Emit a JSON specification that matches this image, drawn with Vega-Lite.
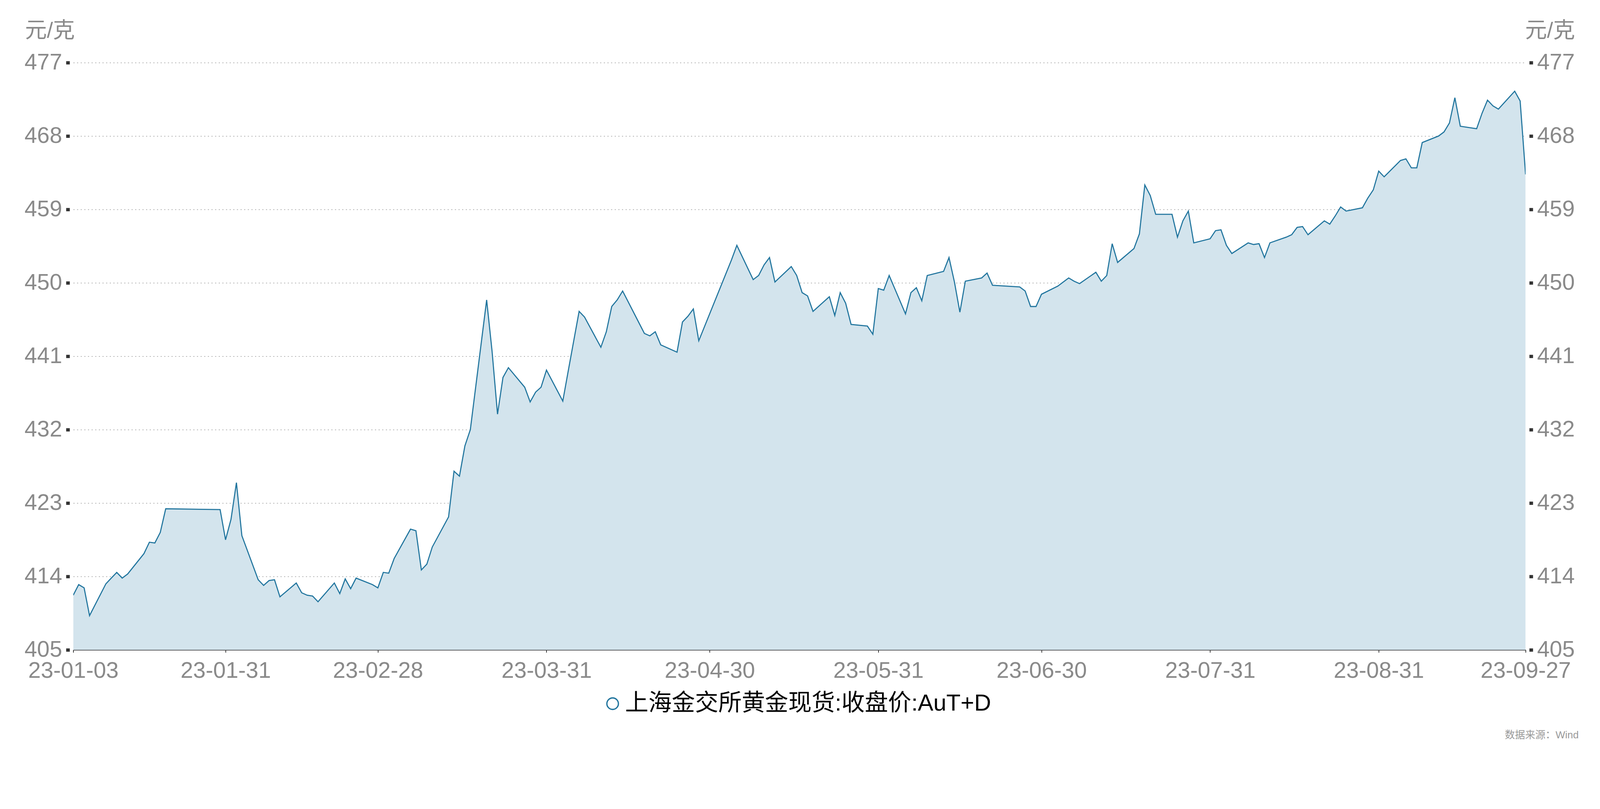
{
  "$schema": "https://vega.github.io/schema/vega-lite/v6.json",
  "description": "上海金交所黄金现货:收盘价:AuT+D, 2023-01-03 至 2023-09-27",
  "background": "white",
  "autosize": {"type": "none"},
  "padding": {"left": 187.5, "top": 160.4, "right": 189.5, "bottom": 268.6},
  "width": 3718,
  "height": 1504,
  "title": {
    "text": "数据来源：Wind",
    "orient": "bottom",
    "anchor": "end",
    "frame": "group",
    "dx": 136,
    "offset": 38,
    "fontSize": 26,
    "fontWeight": "normal",
    "color": "#999999",
    "font": "Liberation Sans, Noto Sans CJK SC"
  },
  "data": {
    "values": [
      {"date": "2023-01-03", "price": 411.7},
      {"date": "2023-01-04", "price": 413.0},
      {"date": "2023-01-05", "price": 412.6},
      {"date": "2023-01-06", "price": 409.2},
      {"date": "2023-01-09", "price": 413.1},
      {"date": "2023-01-10", "price": 413.8},
      {"date": "2023-01-11", "price": 414.5},
      {"date": "2023-01-12", "price": 413.8},
      {"date": "2023-01-13", "price": 414.3},
      {"date": "2023-01-16", "price": 416.8},
      {"date": "2023-01-17", "price": 418.2},
      {"date": "2023-01-18", "price": 418.1},
      {"date": "2023-01-19", "price": 419.4},
      {"date": "2023-01-20", "price": 422.3},
      {"date": "2023-01-30", "price": 422.2},
      {"date": "2023-01-31", "price": 418.5},
      {"date": "2023-02-01", "price": 421.0},
      {"date": "2023-02-02", "price": 425.5},
      {"date": "2023-02-03", "price": 419.0},
      {"date": "2023-02-06", "price": 413.6},
      {"date": "2023-02-07", "price": 412.9},
      {"date": "2023-02-08", "price": 413.5},
      {"date": "2023-02-09", "price": 413.6},
      {"date": "2023-02-10", "price": 411.5},
      {"date": "2023-02-13", "price": 413.2},
      {"date": "2023-02-14", "price": 412.0},
      {"date": "2023-02-15", "price": 411.7},
      {"date": "2023-02-16", "price": 411.6},
      {"date": "2023-02-17", "price": 410.9},
      {"date": "2023-02-20", "price": 413.2},
      {"date": "2023-02-21", "price": 411.9},
      {"date": "2023-02-22", "price": 413.7},
      {"date": "2023-02-23", "price": 412.5},
      {"date": "2023-02-24", "price": 413.8},
      {"date": "2023-02-27", "price": 413.0},
      {"date": "2023-02-28", "price": 412.6},
      {"date": "2023-03-01", "price": 414.5},
      {"date": "2023-03-02", "price": 414.4},
      {"date": "2023-03-03", "price": 416.2},
      {"date": "2023-03-06", "price": 419.8},
      {"date": "2023-03-07", "price": 419.6},
      {"date": "2023-03-08", "price": 414.8},
      {"date": "2023-03-09", "price": 415.5},
      {"date": "2023-03-10", "price": 417.6},
      {"date": "2023-03-13", "price": 421.3},
      {"date": "2023-03-14", "price": 426.9},
      {"date": "2023-03-15", "price": 426.3},
      {"date": "2023-03-16", "price": 430.0},
      {"date": "2023-03-17", "price": 432.0},
      {"date": "2023-03-20", "price": 447.9},
      {"date": "2023-03-21", "price": 441.6},
      {"date": "2023-03-22", "price": 433.9},
      {"date": "2023-03-23", "price": 438.4},
      {"date": "2023-03-24", "price": 439.6},
      {"date": "2023-03-27", "price": 437.2},
      {"date": "2023-03-28", "price": 435.4},
      {"date": "2023-03-29", "price": 436.6},
      {"date": "2023-03-30", "price": 437.2},
      {"date": "2023-03-31", "price": 439.3},
      {"date": "2023-04-03", "price": 435.5},
      {"date": "2023-04-04", "price": 439.2},
      {"date": "2023-04-06", "price": 446.5},
      {"date": "2023-04-07", "price": 445.8},
      {"date": "2023-04-10", "price": 442.1},
      {"date": "2023-04-11", "price": 444.0},
      {"date": "2023-04-12", "price": 447.1},
      {"date": "2023-04-13", "price": 447.9},
      {"date": "2023-04-14", "price": 449.0},
      {"date": "2023-04-17", "price": 445.1},
      {"date": "2023-04-18", "price": 443.8},
      {"date": "2023-04-19", "price": 443.5},
      {"date": "2023-04-20", "price": 444.0},
      {"date": "2023-04-21", "price": 442.4},
      {"date": "2023-04-24", "price": 441.5},
      {"date": "2023-04-25", "price": 445.2},
      {"date": "2023-04-26", "price": 445.9},
      {"date": "2023-04-27", "price": 446.8},
      {"date": "2023-04-28", "price": 442.9},
      {"date": "2023-05-04", "price": 452.8},
      {"date": "2023-05-05", "price": 454.6},
      {"date": "2023-05-08", "price": 450.4},
      {"date": "2023-05-09", "price": 450.9},
      {"date": "2023-05-10", "price": 452.2},
      {"date": "2023-05-11", "price": 453.1},
      {"date": "2023-05-12", "price": 450.1},
      {"date": "2023-05-15", "price": 452.0},
      {"date": "2023-05-16", "price": 450.9},
      {"date": "2023-05-17", "price": 448.8},
      {"date": "2023-05-18", "price": 448.4},
      {"date": "2023-05-19", "price": 446.5},
      {"date": "2023-05-22", "price": 448.3},
      {"date": "2023-05-23", "price": 446.0},
      {"date": "2023-05-24", "price": 448.8},
      {"date": "2023-05-25", "price": 447.5},
      {"date": "2023-05-26", "price": 444.9},
      {"date": "2023-05-29", "price": 444.7},
      {"date": "2023-05-30", "price": 443.7},
      {"date": "2023-05-31", "price": 449.3},
      {"date": "2023-06-01", "price": 449.1},
      {"date": "2023-06-02", "price": 450.9},
      {"date": "2023-06-05", "price": 446.2},
      {"date": "2023-06-06", "price": 448.8},
      {"date": "2023-06-07", "price": 449.4},
      {"date": "2023-06-08", "price": 447.8},
      {"date": "2023-06-09", "price": 450.9},
      {"date": "2023-06-12", "price": 451.4},
      {"date": "2023-06-13", "price": 453.1},
      {"date": "2023-06-14", "price": 450.1},
      {"date": "2023-06-15", "price": 446.4},
      {"date": "2023-06-16", "price": 450.2},
      {"date": "2023-06-19", "price": 450.6},
      {"date": "2023-06-20", "price": 451.2},
      {"date": "2023-06-21", "price": 449.7},
      {"date": "2023-06-26", "price": 449.5},
      {"date": "2023-06-27", "price": 449.0},
      {"date": "2023-06-28", "price": 447.1},
      {"date": "2023-06-29", "price": 447.1},
      {"date": "2023-06-30", "price": 448.6},
      {"date": "2023-07-03", "price": 449.6},
      {"date": "2023-07-04", "price": 450.1},
      {"date": "2023-07-05", "price": 450.6},
      {"date": "2023-07-06", "price": 450.2},
      {"date": "2023-07-07", "price": 449.9},
      {"date": "2023-07-10", "price": 451.3},
      {"date": "2023-07-11", "price": 450.2},
      {"date": "2023-07-12", "price": 450.9},
      {"date": "2023-07-13", "price": 454.8},
      {"date": "2023-07-14", "price": 452.5},
      {"date": "2023-07-17", "price": 454.2},
      {"date": "2023-07-18", "price": 456.0},
      {"date": "2023-07-19", "price": 462.0},
      {"date": "2023-07-20", "price": 460.7},
      {"date": "2023-07-21", "price": 458.4},
      {"date": "2023-07-24", "price": 458.4},
      {"date": "2023-07-25", "price": 455.6},
      {"date": "2023-07-26", "price": 457.6},
      {"date": "2023-07-27", "price": 458.8},
      {"date": "2023-07-28", "price": 454.9},
      {"date": "2023-07-31", "price": 455.4},
      {"date": "2023-08-01", "price": 456.4},
      {"date": "2023-08-02", "price": 456.5},
      {"date": "2023-08-03", "price": 454.6},
      {"date": "2023-08-04", "price": 453.6},
      {"date": "2023-08-07", "price": 454.9},
      {"date": "2023-08-08", "price": 454.7},
      {"date": "2023-08-09", "price": 454.8},
      {"date": "2023-08-10", "price": 453.1},
      {"date": "2023-08-11", "price": 454.9},
      {"date": "2023-08-14", "price": 455.6},
      {"date": "2023-08-15", "price": 455.9},
      {"date": "2023-08-16", "price": 456.8},
      {"date": "2023-08-17", "price": 456.9},
      {"date": "2023-08-18", "price": 455.9},
      {"date": "2023-08-21", "price": 457.6},
      {"date": "2023-08-22", "price": 457.2},
      {"date": "2023-08-23", "price": 458.2},
      {"date": "2023-08-24", "price": 459.3},
      {"date": "2023-08-25", "price": 458.8},
      {"date": "2023-08-28", "price": 459.2},
      {"date": "2023-08-29", "price": 460.4},
      {"date": "2023-08-30", "price": 461.4},
      {"date": "2023-08-31", "price": 463.7},
      {"date": "2023-09-01", "price": 463.0},
      {"date": "2023-09-04", "price": 465.0},
      {"date": "2023-09-05", "price": 465.2},
      {"date": "2023-09-06", "price": 464.1},
      {"date": "2023-09-07", "price": 464.1},
      {"date": "2023-09-08", "price": 467.2},
      {"date": "2023-09-11", "price": 468.0},
      {"date": "2023-09-12", "price": 468.5},
      {"date": "2023-09-13", "price": 469.6},
      {"date": "2023-09-14", "price": 472.7},
      {"date": "2023-09-15", "price": 469.2},
      {"date": "2023-09-18", "price": 468.9},
      {"date": "2023-09-19", "price": 470.8},
      {"date": "2023-09-20", "price": 472.4},
      {"date": "2023-09-21", "price": 471.7},
      {"date": "2023-09-22", "price": 471.3},
      {"date": "2023-09-25", "price": 473.5},
      {"date": "2023-09-26", "price": 472.3},
      {"date": "2023-09-27", "price": 463.3}
    ]
  },
  "encoding": {
    "x": {
      "field": "date",
      "type": "temporal",
      "title": null,
      "scale": {
        "type": "utc",
        "domain": [
          {"year": 2023, "month": 1, "date": 3, "utc": true},
          {"year": 2023, "month": 9, "date": 27, "utc": true}
        ]
      },
      "axis": {
        "values": [
          {"year": 2023, "month": 1, "date": 3, "utc": true},
          {"year": 2023, "month": 1, "date": 31, "utc": true},
          {"year": 2023, "month": 2, "date": 28, "utc": true},
          {"year": 2023, "month": 3, "date": 31, "utc": true},
          {"year": 2023, "month": 4, "date": 30, "utc": true},
          {"year": 2023, "month": 5, "date": 31, "utc": true},
          {"year": 2023, "month": 6, "date": 30, "utc": true},
          {"year": 2023, "month": 7, "date": 31, "utc": true},
          {"year": 2023, "month": 8, "date": 31, "utc": true},
          {"year": 2023, "month": 9, "date": 27, "utc": true}
        ],
        "labelExpr": "utcFormat(datum.value, '%y-%m-%d')",
        "grid": false,
        "domain": true,
        "domainColor": "#333333",
        "domainWidth": 2.3,
        "ticks": true,
        "tickColor": "#333333",
        "tickSize": 6.5,
        "tickWidth": 1.9,
        "labelFontSize": 57.8,
        "labelColor": "#8a8a8a",
        "labelFont": "Liberation Sans",
        "labelPadding": 18.7,
        "labelLimit": 1000,
        "labelOverlap": false,
        "labelFlush": false
      }
    }
  },
  "layer": [
    {
      "mark": {"type": "area", "color": "#d3e4ed", "clip": true},
      "encoding": {
        "y": {
          "field": "price",
          "type": "quantitative",
          "scale": {"domain": [405, 477], "nice": false, "zero": false},
          "axis": {
            "orient": "left",
            "values": [405, 414, 423, 432, 441, 450, 459, 468, 477],
            "title": "元/克",
            "titleAngle": 0,
            "titleAlign": "left",
            "titleBaseline": "middle",
            "titleX": -114.7,
            "titleY": -82,
            "titleFontSize": 56,
            "titleFontWeight": "normal",
            "titleColor": "#8a8a8a",
            "titleFont": "Liberation Sans, Noto Sans CJK SC",
            "domain": false,
            "offset": 9.3,
            "tickColor": "#333333",
            "tickSize": 9.3,
            "tickWidth": 8.4,
            "labelFontSize": 57.8,
            "labelColor": "#8a8a8a",
            "labelFont": "Liberation Sans",
            "labelPadding": 10.3,
            "labelLimit": 1000,
            "grid": true,
            "gridColor": "#a8a8a8",
            "gridDash": [2.8, 6.5],
            "gridWidth": 1.9
          }
        }
      }
    },
    {
      "mark": {"type": "line", "strokeWidth": 2.8, "clip": true},
      "encoding": {
        "y": {
          "field": "price",
          "type": "quantitative",
          "scale": {"domain": [405, 477], "nice": false, "zero": false},
          "axis": {
            "orient": "right",
            "values": [405, 414, 423, 432, 441, 450, 459, 468, 477],
            "title": "元/克",
            "titleAngle": 0,
            "titleAlign": "right",
            "titleBaseline": "middle",
            "titleX": 116.6,
            "titleY": -82,
            "titleFontSize": 56,
            "titleFontWeight": "normal",
            "titleColor": "#8a8a8a",
            "titleFont": "Liberation Sans, Noto Sans CJK SC",
            "domain": false,
            "offset": 9.3,
            "tickColor": "#333333",
            "tickSize": 9.3,
            "tickWidth": 8.4,
            "labelFontSize": 57.8,
            "labelColor": "#8a8a8a",
            "labelFont": "Liberation Sans",
            "labelPadding": 10.3,
            "labelLimit": 1000,
            "grid": false
          }
        },
        "color": {
          "datum": "上海金交所黄金现货:收盘价:AuT+D",
          "type": "nominal",
          "scale": {"range": ["#21759e"]},
          "legend": {
            "title": null,
            "orient": "none",
            "legendX": 1351,
            "legendY": 1612,
            "symbolType": "circle",
            "symbolSize": 870,
            "symbolStrokeWidth": 3.3,
            "labelFontSize": 59.7,
            "labelColor": "#000000",
            "labelFont": "Liberation Sans, Noto Sans CJK SC",
            "labelOffset": 2,
            "labelLimit": 2000,
            "encode": {
              "symbols": {
                "update": {
                  "fill": {"value": "#ffffff"},
                  "stroke": {"value": "#21759e"},
                  "strokeWidth": {"value": 3.3}
                }
              }
            }
          }
        }
      }
    }
  ],
  "resolve": {"axis": {"y": "independent"}},
  "config": {
    "view": {"stroke": null}
  }
}
